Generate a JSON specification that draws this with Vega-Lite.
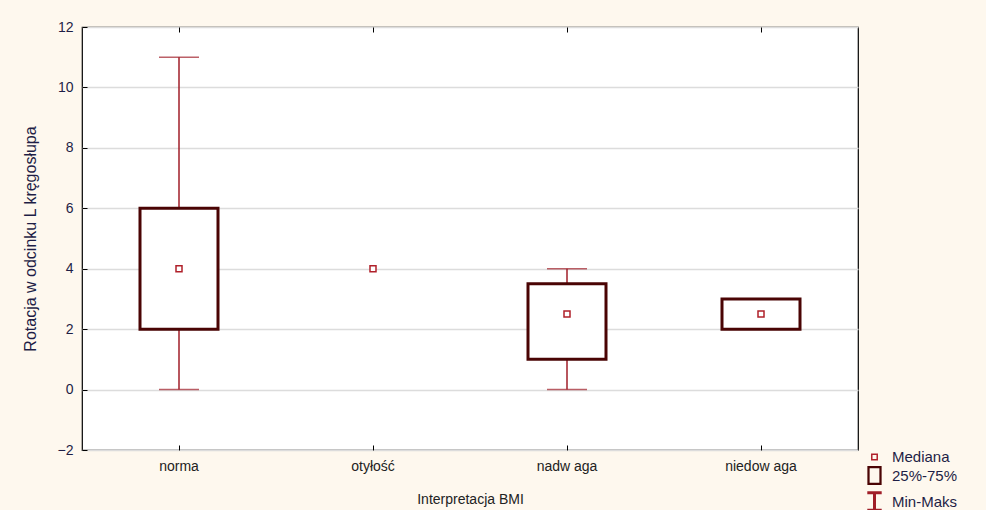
{
  "$schema": "https://vega.github.io/schema/vega-lite/v6.json",
  "autosize": {"type": "none"},
  "padding": {"left": 82, "top": 27, "right": 128, "bottom": 60},
  "width": 776,
  "height": 423,
  "background": "#fef8ee",
  "view": {"fill": "#ffffff", "fillOpacity": 1, "stroke": "#000000", "strokeWidth": 1.2},
  "config": {
    "view": {"stroke": "#000000", "strokeWidth": 1.2, "fill": "#ffffff"},
    "font": "Liberation Sans",
    "axis": {
      "labelFont": "Liberation Sans",
      "titleFont": "Liberation Sans",
      "labelColor": "#1e1e46",
      "titleColor": "#1e1e46",
      "labelFontSize": 14,
      "titleFontSize": 14,
      "titleFontWeight": "normal",
      "domainColor": "#000000",
      "tickColor": "#000000"
    }
  },
  "datasets": {
    "stats": [
      {"grupa": "norma", "min": 0, "q1": 2, "mediana": 4, "q3": 6, "max": 11},
      {"grupa": "otyłość", "min": null, "q1": null, "mediana": 4, "q3": null, "max": null},
      {"grupa": "nadw aga", "min": 0, "q1": 1, "mediana": 2.5, "q3": 3.5, "max": 4},
      {"grupa": "niedow aga", "min": 2, "q1": 2, "mediana": 2.5, "q3": 3, "max": 3}
    ],
    "leg": [
      {"k": "Mediana"},
      {"k": "25%-75%"},
      {"k": "Min-Maks"}
    ]
  },
  "resolve": {"axis": {"x": "independent"}},
  "layer": [
    {
      "data": {"name": "stats"},
      "mark": {"type": "rule", "color": "#a01e28", "strokeWidth": 1.5},
      "encoding": {
        "x": {
          "field": "grupa", "type": "nominal",
          "scale": {"type": "band", "domain": ["norma", "otyłość", "nadw aga", "niedow aga"], "paddingInner": 0, "paddingOuter": 0},
          "axis": {"orient": "bottom", "title": "Interpretacja BMI", "labelAngle": 0, "tickSize": -5, "labelPadding": 14, "titlePadding": 19, "domain": false, "grid": false, "labelColor": "#222222", "titleColor": "#222222"}
        },
        "y": {
          "field": "min", "type": "quantitative",
          "scale": {"domain": [-2, 12], "nice": false, "zero": false},
          "axis": {"values": [-2, 0, 2, 4, 6, 8, 10, 12], "title": "Rotacja w odcinku L kręgosłupa", "titleFontSize": 16, "tickSize": -5, "labelPadding": 14, "titlePadding": 19, "grid": true, "gridColor": "#dcdcdc", "gridWidth": 1.5, "domain": false}
        },
        "y2": {"field": "max"}
      }
    },
    {
      "data": {"name": "stats"},
      "mark": {"type": "tick", "color": "#a01e28", "thickness": 1.5, "size": 40, "orient": "horizontal"},
      "encoding": {
        "x": {"field": "grupa", "type": "nominal",
          "axis": {"orient": "top", "title": null, "labels": false, "tickSize": -5, "domain": false, "grid": false}},
        "y": {"field": "max", "type": "quantitative"}
      }
    },
    {
      "data": {"name": "stats"},
      "mark": {"type": "tick", "color": "#a01e28", "thickness": 1.5, "size": 40, "orient": "horizontal"},
      "encoding": {
        "x": {"field": "grupa", "type": "nominal", "axis": null},
        "y": {"field": "min", "type": "quantitative"}
      }
    },
    {
      "data": {"name": "stats"},
      "mark": {"type": "bar", "width": 78, "fill": "#ffffff", "stroke": "#4a0404", "strokeWidth": 3},
      "encoding": {
        "x": {"field": "grupa", "type": "nominal", "axis": null},
        "y": {"field": "q1", "type": "quantitative"},
        "y2": {"field": "q3"}
      }
    },
    {
      "data": {"name": "stats"},
      "mark": {"type": "point", "shape": "square", "size": 36, "filled": false, "fill": "#ffffff", "stroke": "#b0202a", "strokeWidth": 1.5, "opacity": 1},
      "encoding": {
        "x": {"field": "grupa", "type": "nominal", "axis": null},
        "y": {"field": "mediana", "type": "quantitative"}
      }
    },
    {
      "data": {"name": "leg"},
      "mark": {"type": "point", "filled": false, "opacity": 0},
      "encoding": {
        "shape": {
          "field": "k", "type": "nominal",
          "scale": {
            "domain": ["Mediana", "25%-75%", "Min-Maks"],
            "range": [
              "M-0.34,-0.34H0.34V0.34H-0.34Z",
              "M-0.75,-1.05H0.75V1.05H-0.75Z",
              "M-0.9,-1.1H0.9M0,-1.1V1.1M-0.9,1.1H0.9"
            ]
          },
          "legend": {
            "orient": "none",
            "legendX": 783,
            "legendY": 421,
            "title": null,
            "symbolSize": 256,
            "symbolOpacity": 1,
            "symbolFillColor": "transparent",
            "rowPadding": -3,
            "labelOffset": 8,
            "labelFont": "Liberation Sans",
            "labelFontSize": 15,
            "labelColor": "#1e1e46",
            "padding": 0
          }
        },
        "color": {
          "field": "k", "type": "nominal",
          "scale": {"domain": ["Mediana", "25%-75%", "Min-Maks"], "range": ["#b0202a", "#4a0404", "#a01e28"]}
        },
        "strokeWidth": {
          "field": "k", "type": "nominal",
          "scale": {"domain": ["Mediana", "25%-75%", "Min-Maks"], "range": [1.5, 3, 1.5]}
        }
      }
    }
  ]
}
